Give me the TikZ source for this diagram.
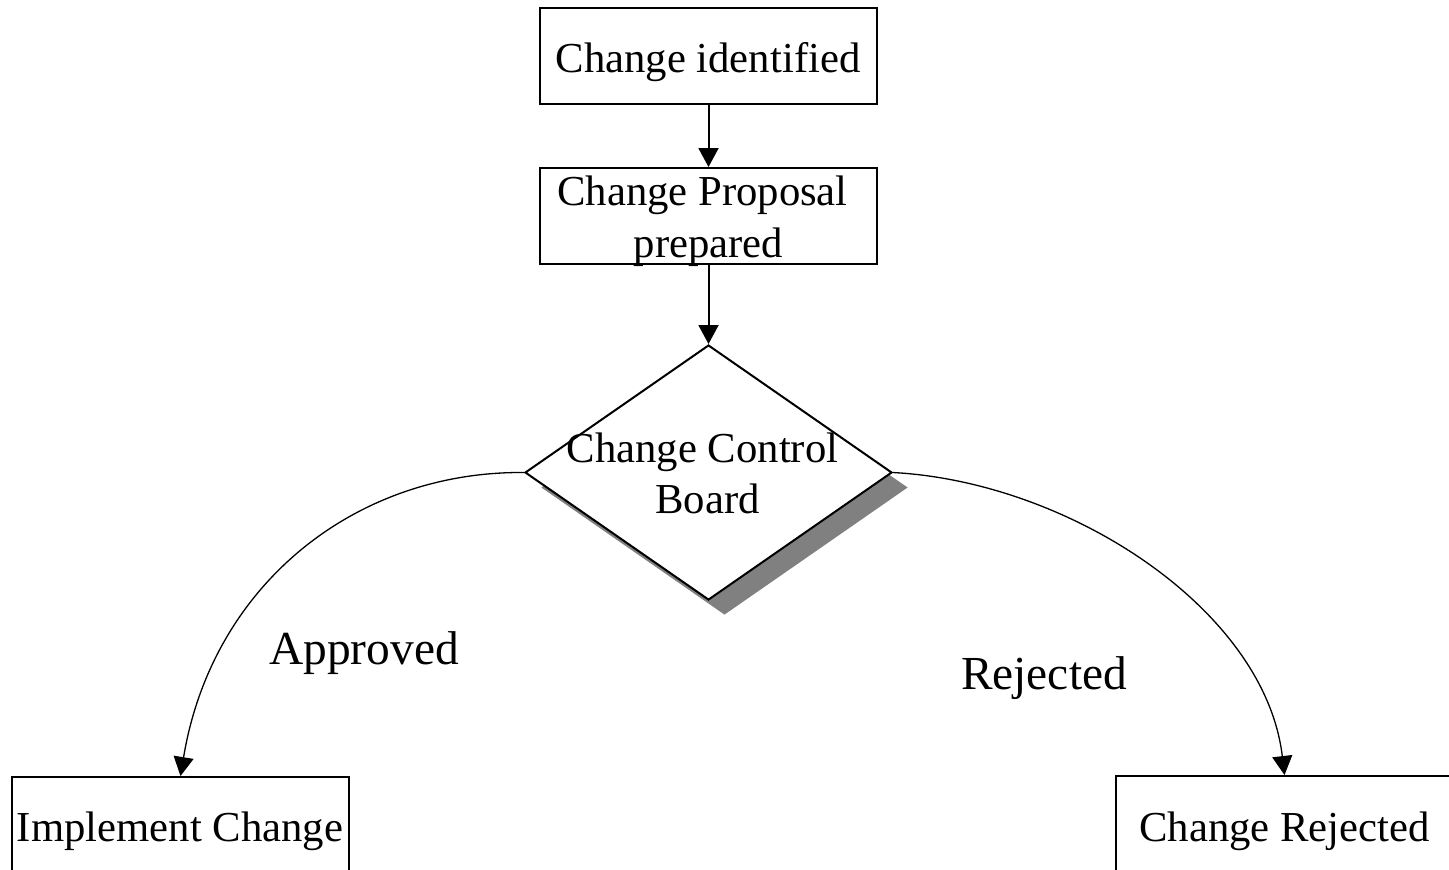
\documentclass[tikz,border=0pt]{standalone}
\usepackage{fontspec}
\setmainfont{Liberation Serif}
\usetikzlibrary{arrows.meta,shapes.geometric,shadows}

\begin{document}
\begin{tikzpicture}[x=0.5pt,y=-0.5pt,
  box/.style={draw,line width=1pt,minimum width=168.5pt,minimum height=48pt,inner sep=0pt},
  txt/.style={anchor=base,inner sep=0pt,font=\fontsize{21.35pt}{25pt}\selectfont},
  lbl/.style={anchor=base,inner sep=0pt,font=\fontsize{23.7pt}{28pt}\selectfont},
  flow/.style={line width=1pt,-{Triangle[length=9.5pt,width=10pt]}},
  branch/.style={line width=0.65pt,-{Triangle[length=9.5pt,width=10pt]}},
  decision/.style={diamond,draw,line width=1pt,fill=white,inner sep=0pt,
    minimum width=183.5pt,minimum height=127.5pt,
    drop shadow={shadow xshift=8pt,shadow yshift=-7.5pt,fill=black!50,opacity=1}},
]
\useasboundingbox (0,0) rectangle (1449,869);
\clip (0,0) rectangle (1449,869);

% process boxes
\node[box] (ident) at (708.5,56) {};
\node[box] (prop)  at (708.5,216) {};
\node[box] (impl)  at (180.5,825) {};
\node[box] (rej)   at (1284.5,824) {};

% decision
\node[decision] (ccb) at (708.5,472.5) {};

% box texts
\node[txt] (identT) at (708,72) {Change identified};
\node[txt] (propA)  at (702.5,205) {Change Proposal};
\node[txt] (propB)  at (708.5,257) {prepared};
\node[txt] (ccbA)   at (702.5,462) {Change Control};
\node[txt] (ccbB)   at (707.5,513) {Board};
\node[txt] (implT)  at (180,841) {Implement Change};
\node[txt] (rejT)   at (1284.5,841) {Change Rejected};

% branch labels
\node[lbl] (appr)  at (364,664) {Approved};
\node[lbl] (rejL)  at (1044,689) {Rejected};

% connectors
\draw[flow] (ident.south) -- (prop.north);
\draw[flow] (prop.south) -- (ccb.north);
\draw[branch] (ccb.west) .. controls (355,471) and (212,585) .. (impl.north);
\draw[branch] (ccb.east) .. controls (1070,482) and (1265,610) .. (rej.north);
\end{tikzpicture}
\end{document}
